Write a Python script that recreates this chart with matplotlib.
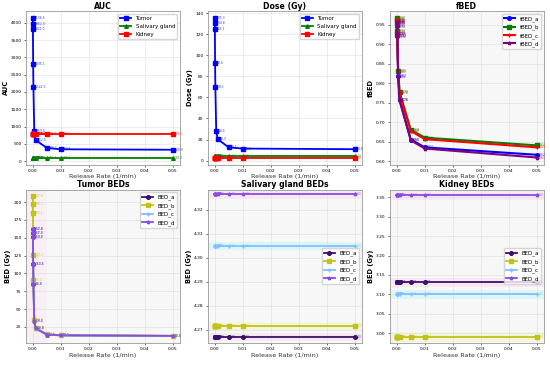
import matplotlib
matplotlib.use("Agg")
import matplotlib.pyplot as plt

# release rates (1/min)
release_rates = [0.000001, 0.00001, 0.00002, 0.0001, 0.0002, 0.0005, 0.001, 0.005, 0.01, 0.05]

auc_tumor = [4136.6, 3962.0, 3821.0, 2805.1, 2142.5, 869.6, 612.5, 380.7, 343.6, 329.9]
auc_salivary = [105.1, 105.1, 105.1, 105.1, 105.1, 105.1, 105.1, 105.1, 105.1, 105.1]
auc_kidney = [795.1, 795.1, 795.1, 795.1, 795.1, 795.1, 795.1, 795.1, 795.1, 795.1]

dose_tumor = [135.3, 130.8, 125.1, 92.6, 70.1, 28.4, 20.3, 12.5, 11.4, 10.8]
dose_salivary = [4.3, 4.3, 4.3, 4.3, 4.3, 4.3, 4.3, 4.3, 4.3, 4.3]
dose_kidney = [2.9, 2.9, 2.9, 2.9, 2.9, 2.9, 2.9, 2.9, 2.9, 2.9]

fbed_a = [0.960, 0.955, 0.947, 0.927, 0.920, 0.818, 0.758, 0.656, 0.636, 0.617]
fbed_b = [0.967, 0.962, 0.955, 0.935, 0.925, 0.832, 0.778, 0.681, 0.661, 0.641]
fbed_c = [0.965, 0.960, 0.952, 0.932, 0.922, 0.830, 0.775, 0.678, 0.657, 0.636]
fbed_d = [0.958, 0.953, 0.945, 0.925, 0.918, 0.816, 0.756, 0.654, 0.633, 0.610]

tumor_bed_a = [162.8, 157.0, 150.6, 113.6, 85.6, 33.2, 22.8, 14.2, 13.1, 12.3]
tumor_bed_b = [207.8, 196.7, 185.1, 125.7, 91.2, 34.5, 23.5, 14.5, 13.4, 12.6]
tumor_bed_c = [162.5, 156.7, 150.3, 113.4, 85.4, 33.1, 22.7, 14.1, 13.0, 12.2]
tumor_bed_d = [162.9, 157.1, 150.7, 113.7, 85.7, 33.3, 22.9, 14.3, 13.2, 12.4]

sal_bed = {"BED_a": 4.2670, "BED_b": 4.2715, "BED_c": 4.3050, "BED_d": 4.3265}
kid_bed = {"BED_a": 3.131, "BED_b": 2.990, "BED_c": 3.100, "BED_d": 3.355}

organ_colors = {"Tumor": "blue", "Salivary gland": "green", "Kidney": "red"}
organ_markers = {"Tumor": "s", "Salivary gland": "^", "Kidney": "s"}
fbed_colors = ["blue", "green", "red", "purple"]
bed_colors = ["#3b0f70", "#c2c21a", "#7fbfff", "#8a4be2"]
band_colors = ["#ff66cc", "#e8e800", "#00e5ff", "#ff66cc"]
bed_markers = ["o", "s", "+", "*"]

plt.rcParams["font.family"] = "DejaVu Sans"


def _style(ax, title, ylabel, face="white"):
    ax.set_title(title, fontsize=5.6, fontweight="bold", pad=1.5)
    ax.set_xlabel("Release Rate (1/min)", fontsize=4.6, labelpad=1, color="#333333")
    ax.set_ylabel(ylabel, fontsize=4.8, fontweight="bold", labelpad=1.5)
    ax.tick_params(labelsize=3.2, length=1.5, width=0.4, pad=1.5)
    ax.grid(True, color="#dddddd", linewidth=0.4)
    ax.set_facecolor(face)
    for s in ax.spines.values():
        s.set_color("#999999")
        s.set_linewidth(0.6)
    ax.set_xticks([0.0, 0.01, 0.02, 0.03, 0.04, 0.05])


def _annotate(ax, xs, ys, color, fmt):
    for x, y in zip(xs, ys):
        ax.annotate(format(y, fmt), (x, y), xytext=(1.5, 0), textcoords="offset points",
                    fontsize=2.2, color=color, va="center", alpha=0.8)


def _series(ax, xs, ys, label, color, marker, fmt, lw=1.3):
    ax.plot(xs, ys, marker=marker, color=color, label=label, linewidth=lw, markersize=2.6)
    _annotate(ax, xs, ys, color, fmt)


fig, axes = plt.subplots(2, 3, figsize=(5.5, 3.68), dpi=100)
plt.subplots_adjust(left=0.047, right=0.989, bottom=0.068, top=0.970, wspace=0.18, hspace=0.163)

# AUC
ax = axes[0, 0]
for name, vals in [("Tumor", auc_tumor), ("Salivary gland", auc_salivary), ("Kidney", auc_kidney)]:
    _series(ax, release_rates, vals, name, organ_colors[name], organ_markers[name], ".1f")
_style(ax, "AUC", "AUC")
ax.legend(fontsize=4.0, loc="upper right", framealpha=0.8)

# Dose
ax = axes[0, 1]
for name, vals in [("Tumor", dose_tumor), ("Salivary gland", dose_salivary), ("Kidney", dose_kidney)]:
    _series(ax, release_rates, vals, name, organ_colors[name], organ_markers[name], ".1f")
_style(ax, "Dose (Gy)", "Dose (Gy)")
ax.legend(fontsize=4.0, loc="upper right", framealpha=0.8)

# fBED
ax = axes[0, 2]
for i, (name, vals) in enumerate([("fBED_a", fbed_a), ("fBED_b", fbed_b), ("fBED_c", fbed_c), ("fBED_d", fbed_d)]):
    _series(ax, release_rates, vals, name, fbed_colors[i], bed_markers[i], ".2f", lw=1.5)
_style(ax, "fBED", "fBED", face="#f7f7f7")
ax.legend(fontsize=4.0, loc="upper right", framealpha=0.8)

# Tumor BEDs
ax = axes[1, 0]
for i, (name, vals) in enumerate([("BED_a", tumor_bed_a), ("BED_b", tumor_bed_b),
                                  ("BED_c", tumor_bed_c), ("BED_d", tumor_bed_d)]):
    _series(ax, release_rates, vals, name, bed_colors[i], bed_markers[i], ".1f")
ax.axvspan(-0.003, 0.005, color="#ff66cc", alpha=0.05, linewidth=0)
ax.set_xlim(-0.0025, 0.0525)
_style(ax, "Tumor BEDs", "BED (Gy)", face="#f7f7f7")
ax.legend(fontsize=4.0, loc="upper right", framealpha=0.8)

# Salivary / kidney BEDs
for ax, data, title, band in [(axes[1, 1], sal_bed, "Salivary gland BEDs", 0.0018),
                              (axes[1, 2], kid_bed, "Kidney BEDs", 0.012)]:
    for i, (name, v) in enumerate(data.items()):
        vals = [v] * len(release_rates)
        _series(ax, release_rates, vals, name, bed_colors[i], bed_markers[i], ".1f")
        ax.axhspan(v - band, v + band, color=band_colors[i], alpha=0.1, linewidth=0)
    _style(ax, title, "BED (Gy)", face="#f7f7f7")
    ax.legend(fontsize=4.0, loc="center right", framealpha=0.8)

axes[1, 1].set_ylim(4.2645, 4.3285)
axes[1, 2].set_ylim(2.975, 3.37)

fig.savefig("out.png", dpi=100)
